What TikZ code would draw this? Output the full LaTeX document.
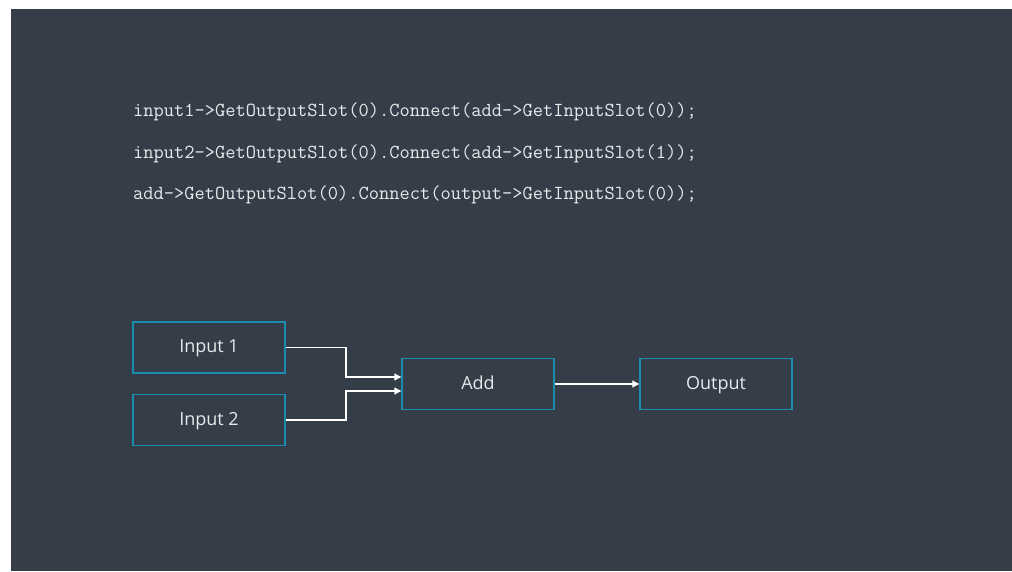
\documentclass[tikz,border=0pt]{standalone}
\usepackage{fontspec}
\setmainfont{Open Sans}
\usetikzlibrary{calc,arrows.meta}
\definecolor{slate}{HTML}{343D48}
\definecolor{boxline}{HTML}{1C8CAE}
\definecolor{inktext}{HTML}{E8EAEC}
\tikzset{
	block/.style={draw=boxline, line width=1.4pt, minimum width=152pt, minimum height=51pt, text=inktext, text height=13pt, text depth=3pt, font=\fontsize{18}{21}\selectfont},
	codeline/.style={anchor=west, text=inktext, inner sep=0pt, font=\ttfamily\fontsize{19.9}{22}\selectfont},
	wire/.style={draw=white, line width=1.3pt, -{Triangle[length=7pt,width=7pt]}}
}

\begin{document}
\begin{tikzpicture}[x=1pt, y=-1pt]
			%%%%% START %%%%%
			
			\useasboundingbox[fill=white] (0, 0) rectangle (1012, 571);
			\fill[slate] (11, 9) rectangle (1012, 571);
			
			\node[codeline] (line1) at (133, 112) {input1->GetOutputSlot(0).Connect(add->GetInputSlot(0));};
			\node[codeline] (line2) at (133, 154) {input2->GetOutputSlot(0).Connect(add->GetInputSlot(1));};
			\node[codeline] (line3) at (133, 195) {add->GetOutputSlot(0).Connect(output->GetInputSlot(0));};
			
			\node[block] (input1) at (209, 347.5) {Input 1};
			\node[block] (input2) at (209, 420) {Input 2};
			\node[block] (add) at (478, 384) {Add};
			\node[block] (output) at (716, 384) {Output};
			
			\coordinate (addtop) at ($(add.west)+(0, -7)$);
			\coordinate (addbot) at ($(add.west)+(0, 7)$);
			
			\draw[wire] (input1.east) -- (346, 347.5) |- (addtop);
			\draw[wire] (input2.east) -- (346, 420) |- (addbot);
			\draw[wire] (add) -- (output);
			
			%%%%% END %%%%%
		\end{tikzpicture}
\end{document}
